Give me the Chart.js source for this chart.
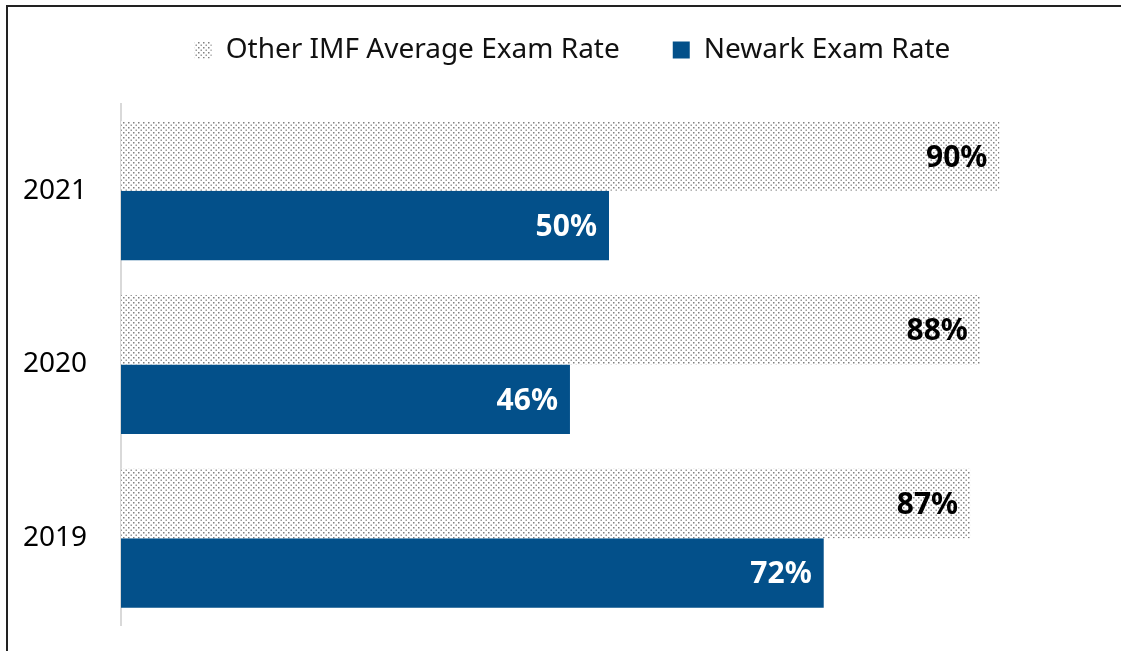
<!DOCTYPE html>
<html>
<head>
<meta charset="utf-8">
<script src="https://cdn.jsdelivr.net/npm/chart.js@4"></script>
<style>
  html, body { margin: 0; padding: 0; background: #fff; overflow: hidden; }
  #frame {
    position: absolute; left: 6px; top: 5px;
    width: 1160px; height: 700px;
    border: 2px solid #222;
    box-sizing: border-box;
  }
  #wrap { position: absolute; left: 0; top: 0; width: 1113px; height: 644px; }
</style>
</head>
<body>
<div id="frame"><div id="wrap"><canvas id="barChart"></canvas></div></div>
<script>
const years = ["2021", "2020", "2019"];
const otherImfRate = [90, 88, 87];
const newarkRate = [50, 46, 72];
const seriesNames = ["Other IMF Average Exam Rate", "Newark Exam Rate"];

const FONT = "'Noto Sans', sans-serif";
const LEGEND_EXTRA = 30; // extra room under the legend
const LEGEND_SHIFT = 20; // legend sits a bit right of centre

// dotted fill like the original
function dotPattern() {
  const c = document.createElement("canvas");
  c.width = 5;
  c.height = 5;
  const g = c.getContext("2d");
  g.fillStyle = "#fff";
  g.fillRect(0, 0, 5, 5);
  g.fillStyle = "#808080";
  g.fillRect(0, 0, 1.5, 1.5);
  g.fillStyle = "#9a9a9a";
  g.fillRect(2.5, 2.5, 1.5, 1.5);
  return g.createPattern(c, "repeat");
}

// legend tweaks + value labels at the end of each bar
const barLabels = {
  id: "barLabels",
  afterInit(chart) {
    const legend = chart.legend;
    const fit = legend.fit;
    legend.fit = function () {
      fit.call(this);
      this.height += LEGEND_EXTRA;
    };
    const draw = legend.draw;
    legend.draw = function () {
      this.ctx.save();
      this.ctx.translate(LEGEND_SHIFT, 0);
      draw.call(this);
      this.ctx.restore();
    };
  },
  afterDatasetsDraw(chart) {
    const ctx = chart.ctx;
    ctx.save();
    ctx.font = "bold 30px " + FONT;
    ctx.textAlign = "right";
    ctx.textBaseline = "middle";
    chart.data.datasets.forEach((ds, i) => {
      chart.getDatasetMeta(i).data.forEach((bar, j) => {
        ctx.fillStyle = i === 0 ? "#000" : "#fff";
        ctx.fillText(ds.data[j] + "%", bar.x - 12, bar.y + 2);
      });
    });
    ctx.restore();
  },
};

var ctx = document.getElementById("barChart").getContext("2d");
var myChart = new Chart(ctx, {
  type: "bar",
  data: {
    labels: years,
    datasets: [
      {
        label: seriesNames[0],
        data: otherImfRate,
        backgroundColor: dotPattern(),
        borderWidth: 0,
      },
      {
        label: seriesNames[1],
        data: newarkRate,
        backgroundColor: "#03508a",
        borderWidth: 0,
      },
    ],
  },
  options: {
    indexAxis: "y",
    responsive: true,
    maintainAspectRatio: false,
    animation: false,
    layout: { padding: { top: -24, bottom: 26, right: 24 } },
    datasets: { bar: { categoryPercentage: 0.8, barPercentage: 1 } },
    scales: {
      x: {
        display: false,
        min: 0,
        max: 100,
      },
      y: {
        grid: { display: false, drawTicks: false },
        border: { display: true, color: "#d9d9d9", width: 2 },
        ticks: {
          color: "#000",
          padding: 34,
          font: { family: FONT, size: 28 },
        },
        afterFit(scale) {
          scale.width = 113;
          // tick padding should not eat vertical space
          scale.paddingTop = 0;
          scale.paddingBottom = 0;
        },
      },
    },
    plugins: {
      tooltip: { enabled: false },
      legend: {
        position: "top",
        labels: {
          color: "#111",
          boxWidth: 17,
          boxHeight: 17,
          padding: 53,
          font: { family: FONT, size: 28 },
        },
      },
    },
  },
  plugins: [barLabels],
});
</script>
</body>
</html>
